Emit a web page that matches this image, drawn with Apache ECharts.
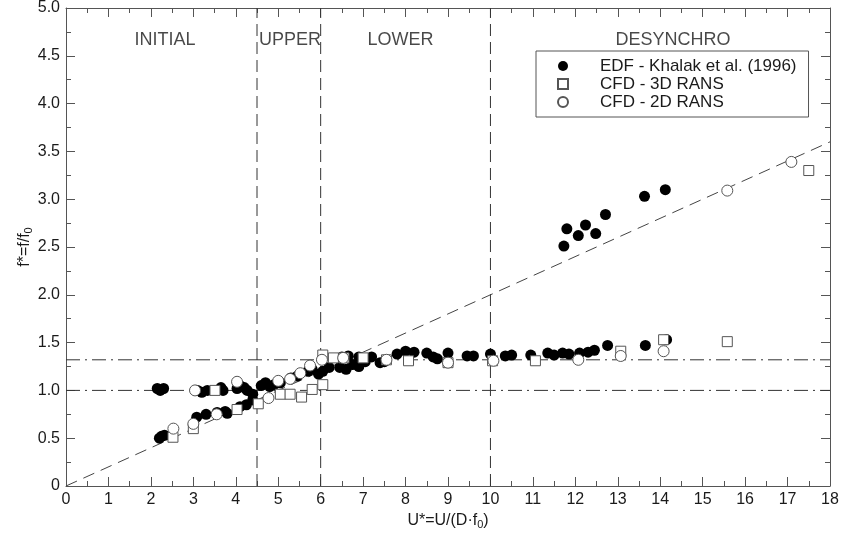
<!DOCTYPE html>
<html>
<head>
<meta charset="utf-8">
<script src="https://cdn.jsdelivr.net/npm/echarts@6/dist/echarts.min.js"></script>
<style>html,body{margin:0;padding:0;background:#fff;}#c{width:845px;height:535px;}</style>
</head>
<body>
<div id="c"></div>
<script>
// Experimental data (EDF - Khalak et al. 1996), [U*, f*]
const edf = [
  [2.15,1.02],[2.22,1.0],[2.3,1.02],
  [2.2,0.5],[2.25,0.52],[2.32,0.53],
  [3.1,1.0],[3.2,0.98],[3.33,1.0],[3.65,1.03],[3.7,1.0],[4.03,1.02],[4.1,1.05],[4.2,1.03],[4.27,1.0],[4.4,0.96],
  [3.08,0.72],[3.3,0.75],[3.56,0.77],[3.75,0.78],[3.8,0.76],[4.1,0.83],[4.25,0.85],[4.4,0.9],
  [4.6,1.05],[4.7,1.08],[4.8,1.04],[4.9,1.06],[5.05,1.08],[5.3,1.13],[5.45,1.15],[5.7,1.2],[5.8,1.22],[5.95,1.17],[6.05,1.2],[6.2,1.24],
  [6.45,1.24],[6.6,1.22],[6.75,1.27],[6.9,1.25],[7.05,1.3],[7.4,1.29],[7.5,1.3],
  [6.5,1.35],[6.65,1.36],[6.9,1.35],[7.2,1.35],
  [7.8,1.38],[8.0,1.41],[8.2,1.4],[8.5,1.39],[8.65,1.35],[8.75,1.33],[9.0,1.39],[9.45,1.36],[9.6,1.36],[10.0,1.38],
  [10.35,1.36],[10.5,1.37],[10.95,1.37],[11.35,1.39],[11.5,1.37],[11.7,1.39],[11.85,1.38],[12.1,1.39],[12.3,1.4],[12.45,1.42],
  [12.76,1.47],[13.65,1.47],[14.15,1.53],
  [11.73,2.51],[11.8,2.69],[12.07,2.62],[12.24,2.73],[12.48,2.64],[12.71,2.84],[13.63,3.03],[14.12,3.1]
];
// CFD - 3D RANS
const rans3d = [
  [2.52,0.51],[3.0,0.6],[3.51,1.0],[4.03,0.8],[4.53,0.86],[5.05,0.96],[5.28,0.96],[5.55,0.93],[5.8,1.01],[6.05,1.06],
  [6.05,1.37],[6.3,1.34],[6.55,1.34],[7.0,1.34],[7.55,1.32],[8.07,1.31],[9.0,1.29],[10.05,1.31],[11.06,1.31],
  [13.07,1.41],[14.08,1.53],[15.58,1.51],[17.5,3.3]
];
// CFD - 2D RANS
const rans2d = [
  [2.53,0.6],[3.0,0.65],[3.04,1.0],[3.55,0.75],[4.03,1.09],[4.77,0.92],[5.0,1.1],[5.28,1.12],[5.52,1.18],[5.75,1.26],
  [6.03,1.32],[6.53,1.34],[7.55,1.32],[9.0,1.29],[10.07,1.31],[12.07,1.32],[13.07,1.36],[14.08,1.41],[15.58,3.09],[17.09,3.39]
];
// Regime boundaries (U*) and labels
const regimeBounds = [4.5, 6, 10];
const regimeLabels = [
  {name: 'INITIAL', x: 2.33},
  {name: 'UPPER', x: 5.28},
  {name: 'LOWER', x: 7.88},
  {name: 'DESYNCHRO', x: 14.3}
];
const regimeLabelY = 4.67;
// Horizontal reference levels (f*)
const refLevels = [1.0, 1.32];
// Strouhal line f* = St * U*
const strouhal = 0.2;
const uRange = [0, 18];
const fRange = [0, 5];

const chart = echarts.init(document.getElementById('c'));
const FONT = 'Liberation Sans, Arial, Helvetica, sans-serif';
const axisCol = '#555';
const txtCol = '#1a1a1a';

const vLines = regimeBounds.map(u => ({
  type: 'line', silent: true, symbol: 'none', z: 1,
  data: [[u, fRange[0]], [u, fRange[1]]],
  lineStyle: {color: '#333', width: 1, type: [12, 6]}
}));
const hLines = refLevels.map(f => ({
  type: 'line', silent: true, symbol: 'none', z: 1,
  data: [[uRange[0], f], [uRange[1], f]],
  lineStyle: {color: '#333', width: 1, type: [14, 5, 2, 5]}
}));
const stLine = {
  type: 'line', silent: true, symbol: 'none', z: 1,
  data: uRange.map(u => [u, strouhal * u]),
  lineStyle: {color: '#444', width: 1, type: [12, 7]}
};
const labelSeries = {
  type: 'scatter', silent: true, symbolSize: 0, z: 3,
  data: regimeLabels.map(r => ({value: [r.x, regimeLabelY], name: r.name})),
  label: {show: true, formatter: p => p.name, position: 'inside', color: txtCol, fontSize: 18, fontFamily: FONT}
};

const tickCommon = {
  axisLine: {show: true, onZero: false, lineStyle: {color: axisCol, width: 1}},
  axisTick: {show: true, inside: true, length: 9, lineStyle: {color: axisCol}},
  minorTick: {show: true, splitNumber: 2, length: 5, lineStyle: {color: axisCol}},
  splitLine: {show: false}
};

chart.setOption({
  animation: false,
  backgroundColor: '#fff',
  grid: {left: 66, right: 15, top: 8, bottom: 46},
  legend: {
    data: [
      {name: 'EDF - Khalak et al. (1996)', icon: 'circle'},
      {name: 'CFD - 3D RANS', icon: 'rect'},
      {name: 'CFD - 2D RANS', icon: 'circle'}
    ],
    orient: 'vertical', left: 536, top: 51,
    padding: [6, 12, 6, 21],
    itemWidth: 10, itemHeight: 10, itemGap: 0,
    borderColor: '#555', borderWidth: 1, backgroundColor: '#fff',
    textStyle: {fontSize: 17, fontFamily: FONT, color: txtCol, lineHeight: 18, padding: [0, 0, 0, 27]}
  },
  xAxis: [
    Object.assign({
      type: 'value', min: uRange[0], max: uRange[1], interval: 1, position: 'bottom',
      name: '{a|U*=U/(D·f}{s|0}{a|)}', nameLocation: 'middle', nameGap: 26,
      nameTextStyle: {rich: {a: {fontSize: 16, fontFamily: FONT, color: txtCol}, s: {fontSize: 11, fontFamily: FONT, color: txtCol, padding: [7, 0, 0, 0]}}},
      axisLabel: {fontSize: 16, fontFamily: FONT, color: txtCol, margin: 6}
    }, tickCommon),
    Object.assign({
      type: 'value', min: uRange[0], max: uRange[1], interval: 1, position: 'top',
      axisLabel: {show: false}
    }, tickCommon)
  ],
  yAxis: [
    Object.assign({
      type: 'value', min: fRange[0], max: fRange[1], interval: 0.5, position: 'left',
      name: '{a|f*=f/f}{s|0}', nameLocation: 'middle', nameGap: 32, nameRotate: 90,
      nameMoveOverlap: false,
      nameTextStyle: {rich: {a: {fontSize: 16, fontFamily: FONT, color: txtCol}, s: {fontSize: 11, fontFamily: FONT, color: txtCol, padding: [7, 0, 0, 0]}}},
      axisLabel: {fontSize: 16, fontFamily: FONT, color: txtCol, margin: 6, formatter: v => v === 0 ? '0' : v.toFixed(1)}
    }, tickCommon),
    Object.assign({
      type: 'value', min: fRange[0], max: fRange[1], interval: 0.5, position: 'right',
      axisLabel: {show: false}
    }, tickCommon)
  ],
  series: [
    ...vLines, ...hLines, stLine,
    {
      name: 'EDF - Khalak et al. (1996)', type: 'scatter', data: edf, z: 4,
      symbol: 'circle', symbolSize: 11,
      itemStyle: {color: '#000', borderColor: '#000', borderWidth: 0, opacity: 1}
    },
    {
      name: 'CFD - 3D RANS', type: 'scatter', data: rans3d, z: 5,
      symbol: 'rect', symbolSize: 10,
      itemStyle: {color: '#fff', borderColor: '#555', borderWidth: 1, opacity: 1}
    },
    {
      name: 'CFD - 2D RANS', type: 'scatter', data: rans2d, z: 6,
      symbol: 'circle', symbolSize: 11,
      itemStyle: {color: '#fff', borderColor: '#555', borderWidth: 1, opacity: 1}
    },
    labelSeries
  ]
});
</script>
</body>
</html>
